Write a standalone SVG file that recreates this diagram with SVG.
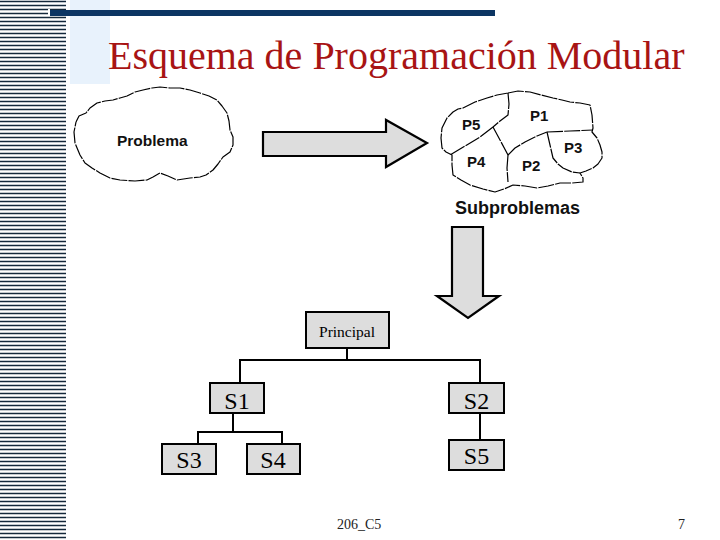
<svg xmlns="http://www.w3.org/2000/svg" width="720" height="540" viewBox="0 0 720 540">
<style>
.box{fill:#dddddd;stroke:#000;stroke-width:2}
.arr{fill:#dddddd;stroke:#000;stroke-width:2.2;stroke-linejoin:miter}
.cl{fill:none;stroke:#000;stroke-width:1.2;stroke-linejoin:round;stroke-dasharray:16 1.2}
.lbl{font-family:"Liberation Sans",Arial,sans-serif;font-weight:bold;fill:#111}
.ser{font-family:"Liberation Serif","Times New Roman",serif;fill:#000;text-anchor:middle}
.con{fill:none;stroke:#000;stroke-width:2}
</style>
<defs>
<pattern id="stripes" x="0" y="0" width="66" height="4" patternUnits="userSpaceOnUse">
<rect x="0" y="0.75" width="66" height="1.5" fill="#14283a"/>
</pattern>
</defs>
<rect width="720" height="540" fill="#ffffff"/>
<rect x="0" y="0" width="66" height="540" fill="url(#stripes)"/>
<rect x="70" y="0" width="40" height="84" fill="#e8f2fc"/>
<rect x="48" y="9" width="2" height="7" fill="#ffffff"/>
<rect x="50" y="10" width="445" height="6" fill="#0c3563"/>
<text x="108" y="69" font-family="'Liberation Serif','Times New Roman',serif" font-size="40" fill="#a81414">Esquema de Programación Modular</text>

<g id="problema">
<polyline class="cl" points="76,122 79,116 86,113 90,108 97,103 105,101 113,100 120,98 127,96 135,92 143,90 152,88 160,87 170,88 180,88 190,90 200,93 209,96 217,100 222,106 227,113 229,121 230,130 233,137 233,145 230,152 223,157 218,164 213,170 206,175 200,177 190,178 177,180 168,176 160,173 153,177 147,180 135,181 120,180 110,178 100,173 92,168 85,163 80,155 75,143 74,132 76,122"/>
<text class="lbl" x="117" y="146" font-size="15.5">Problema</text>
</g>

<g id="subproblemas">
<polyline class="cl" points="508,93 518,91 530,92 541,95 553,98 562,100 570,102 580,103 590,105 592,115 593,128 592,132 597,138 600,145 602,152 602,158 598,164 593,168 586,171 580,173 583,178 583,182 572,183 560,183 548,186 537,188 525,186 513,185 504,189 495,192 483,189 470,185 461,180 453,175 452,165 452,155 446,152 442,148 441,138 442,128 447,118 453,112 458,109 463,108 475,102 487,98 497,95 508,93"/>
<polyline class="cl" points="508,93 509,104 508,115 500,121 493,127"/>
<polyline class="cl" points="493,127 480,137 465,146 450,155"/>
<polyline class="cl" points="493,127 500,140 508,155"/>
<polyline class="cl" points="508,155 507,168 508,182"/>
<polyline class="cl" points="508,155 515,148 525,142 537,136 547,132"/>
<polyline class="cl" points="547,132 570,131 593,130"/>
<polyline class="cl" points="547,132 550,145 553,158 558,164 563,168 572,172 580,173"/>
<text class="lbl" x="530" y="121" font-size="15">P1</text>
<text class="lbl" x="462" y="130" font-size="15">P5</text>
<text class="lbl" x="564" y="153" font-size="15">P3</text>
<text class="lbl" x="467" y="167" font-size="15">P4</text>
<text class="lbl" x="522" y="171" font-size="15">P2</text>
<text class="lbl" x="455" y="214" font-size="18">Subproblemas</text>
</g>

<g id="arrow-right">
<polygon class="arr" points="263,132 386,132 386,120 427,143 386,167 386,156 263,156"/>
</g>
<g id="arrow-down">
<polygon class="arr" points="452,227 483,227 483,296 499,296 468,318 437,296 452,296"/>
</g>

<g id="connectors">
<polyline class="con" points="347,348 347,360"/>
<polyline class="con" points="240,383 240,360 480,360 480,383"/>
<polyline class="con" points="233,413 233,432"/>
<polyline class="con" points="198,444 198,432 282,432 282,444"/>
<polyline class="con" points="480,413 480,440"/>
</g>

<g id="principal">
<rect class="box" x="306" y="312" width="83" height="36"/>
<text class="ser" x="347" y="337" font-size="15.5">Principal</text>
</g>
<g id="s1">
<rect class="box" x="210" y="383" width="54" height="30"/>
<text class="ser" x="237" y="409" font-size="24">S1</text>
</g>
<g id="s2">
<rect class="box" x="449" y="383" width="55" height="30"/>
<text class="ser" x="476.5" y="409" font-size="24">S2</text>
</g>
<g id="s3">
<rect class="box" x="162" y="444" width="54" height="30"/>
<text class="ser" x="189" y="468" font-size="24">S3</text>
</g>
<g id="s4">
<rect class="box" x="247" y="444" width="53" height="30"/>
<text class="ser" x="273" y="468" font-size="24">S4</text>
</g>
<g id="s5">
<rect class="box" x="449" y="440" width="55" height="30"/>
<text class="ser" x="476.5" y="464" font-size="24">S5</text>
</g>

<text x="337" y="529" font-family="'Liberation Serif','Times New Roman',serif" font-size="14" fill="#222">206_C5</text>
<text x="678" y="529" font-family="'Liberation Serif','Times New Roman',serif" font-size="14" fill="#222">7</text>
</svg>
